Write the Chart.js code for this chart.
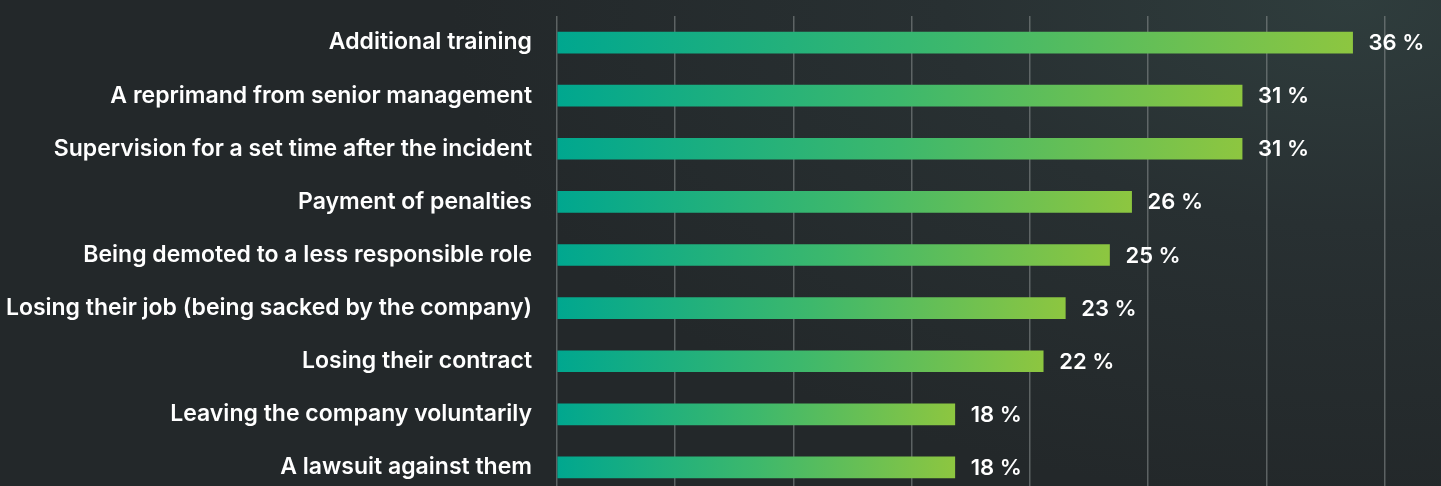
<!DOCTYPE html>
<html>
<head>
<meta charset="utf-8">
<script src="https://cdn.jsdelivr.net/npm/chart.js@4"></script>
<style>
  html, body { margin: 0; padding: 0; width: 1441px; height: 486px; overflow: hidden; }
  body {
    background: radial-gradient(ellipse 900px 500px at 1350px 0px, #2f3d3d 0%, #283032 45%, #23282a 100%);
    background-color: #23282a;
  }
  #c { position: absolute; left: 0; top: 0; }
</style>
</head>
<body>
<canvas id="c" width="1441" height="494"></canvas>
<script>
const categories = [
  "Additional training",
  "A reprimand from senior management",
  "Supervision for a set time after the incident",
  "Payment of penalties",
  "Being demoted to a less responsible role",
  "Losing their job (being sacked by the company)",
  "Losing their contract",
  "Leaving the company voluntarily",
  "A lawsuit against them"
];
const values = [36, 31, 31, 26, 25, 23, 22, 18, 18];
const valueLabels = ["36 %", "31 %", "31 %", "26 %", "25 %", "23 %", "22 %", "18 %", "18 %"];
const axisMax = 40;
const gridStep = 5.35;

const FONT = "Inter, 'Open Sans', sans-serif";

const valueLabelPlugin = {
  id: 'valueLabels',
  afterDatasetsDraw(chart) {
    const ctx = chart.ctx;
    const meta = chart.getDatasetMeta(0);
    ctx.save();
    ctx.font = "600 22px " + FONT;
    ctx.fillStyle = "#ffffff";
    ctx.textBaseline = "middle";
    ctx.textAlign = "left";
    meta.data.forEach((bar, i) => {
      ctx.fillText(valueLabels[i], bar.x + 16, bar.y + 1);
    });
    ctx.restore();
  }
};

new Chart(document.getElementById('c'), {
  type: 'bar',
  data: {
    labels: categories,
    datasets: [{
      data: values,
      barThickness: 21,
      borderWidth: 0,
      backgroundColor(context) {
        const chart = context.chart;
        const xs = chart.scales.x;
        if (!xs || context.parsed == null) return '#2bb07a';
        const x0 = xs.getPixelForValue(0);
        const x1 = xs.getPixelForValue(context.parsed.x);
        if (!isFinite(x0) || !isFinite(x1) || x1 <= x0) return '#2bb07a';
        const g = chart.ctx.createLinearGradient(x0, 0, x1, 0);
        g.addColorStop(0, '#00a78f');
        g.addColorStop(0.5, '#3db86c');
        g.addColorStop(1, '#8dc640');
        return g;
      }
    }]
  },
  options: {
    indexAxis: 'y',
    responsive: false,
    animation: false,
    layout: { padding: { top: 16, right: 0, bottom: 0, left: 0 } },
    plugins: { legend: { display: false }, tooltip: { enabled: false } },
    scales: {
      x: {
        min: 0,
        max: axisMax,
        afterBuildTicks(scale) {
          const t = [];
          for (let v = 0; v < axisMax; v += gridStep) t.push({ value: v });
          scale.ticks = t;
        },
        afterFit(scale) { scale.height = 0; scale.paddingLeft = 0; scale.paddingRight = 0; },
        ticks: { display: false },
        border: { display: false },
        grid: { color: 'rgba(140,145,145,0.55)', lineWidth: 1.5, drawTicks: false }
      },
      y: {
        afterFit(scale) { scale.width = 557; scale.paddingTop = 0; scale.paddingBottom = 0; },
        ticks: {
          color: '#ffffff',
          padding: 25,
          font: { family: FONT, size: 23, weight: '600' }
        },
        border: { display: false },
        grid: { display: false, drawTicks: false }
      }
    }
  },
  plugins: [valueLabelPlugin]
});
</script>
</body>
</html>
